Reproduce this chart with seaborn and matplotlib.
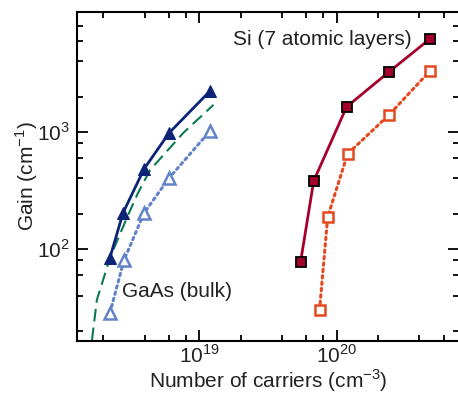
import matplotlib
matplotlib.use("Agg")
import matplotlib.pyplot as plt
import matplotlib.ticker as mticker
import numpy as np
import seaborn as sns

sns.set_theme(style="ticks")
plt.rcParams["font.family"] = ["Liberation Sans", "DejaVu Sans"]
plt.rcParams["mathtext.fontset"] = "custom"
plt.rcParams["mathtext.rm"] = "Liberation Sans"

# GaAs (bulk)
gaas_n = [2.24e18, 2.79e18, 3.97e18, 6.04e18, 1.2e19]
gaas_gain = [84, 203, 483, 980, 2240]
gaas_n2 = [2.24e18, 2.84e18, 3.97e18, 6.04e18, 1.2e19]
gaas_gain2 = [28.4, 80.5, 203, 404, 1020]
# dashed reference curve
curve_n = [1.66e18, 1.8e18, 2.24e18, 2.93e18, 3.53e18, 4.39e18, 7.65e18, 1.27e19]
curve_gain = [16.7, 36.7, 84, 177, 290, 473, 980, 1702]

# Si (7 atomic layers)
si_n = [5.46e19, 6.8e19, 1.18e20, 2.4e20, 4.77e20]
si_gain = [77.4, 381, 1636, 3256, 6235]
si_n2 = [7.5e19, 8.6e19, 1.2e20, 2.4e20, 4.77e20]
si_gain2 = [30.1, 188, 649, 1397, 3320]

fig, ax = plt.subplots(figsize=(4.58, 3.95), dpi=100)
fig.subplots_adjust(left=0.168, right=1.003, bottom=0.137, top=0.970)

# smooth the dashed curve in log space for drawing
lc = np.log10(curve_n)
fine = np.linspace(lc[0], lc[-1], 200)
ax.plot(10 ** fine, 10 ** np.interp(fine, lc, np.log10(curve_gain)),
        color="#0b7a52", lw=1.5, ls=(0, (6, 3)))

sns.lineplot(x=gaas_n2, y=gaas_gain2, ax=ax, color="#6383c9", lw=2.2,
             ls=(0, (0.8, 1.3)), dash_capstyle="round", marker="^", ms=8,
             mfc="white", mec="#6383c9", mew=1.8)
sns.lineplot(x=gaas_n, y=gaas_gain, ax=ax, color="#0c2478", lw=2,
             marker="^", ms=8.5, mec="#0c2478")
sns.lineplot(x=si_n2, y=si_gain2, ax=ax, color="#e5481f", lw=2.2,
             ls=(0, (0.8, 1.3)), dash_capstyle="round", marker="s", ms=7,
             mfc="white", mec="#e5481f", mew=1.8)
sns.lineplot(x=si_n, y=si_gain, ax=ax, color="#a3002b", lw=2,
             marker="s", ms=7, mfc="#a3002b", mec="black", mew=1.3)

ax.set_xscale("log")
ax.set_yscale("log")
ax.set_xlim(1.29e18, 7.8e20)
ax.set_ylim(16.4, 1.06e4)

ax.xaxis.set_major_locator(mticker.FixedLocator([1e19, 1e20]))
ax.yaxis.set_major_locator(mticker.FixedLocator([1e2, 1e3]))
ax.xaxis.set_minor_locator(mticker.LogLocator(base=10, subs=[2, 4, 6, 8]))
ax.yaxis.set_minor_locator(mticker.LogLocator(base=10, subs=[2, 4, 6, 8]))
ax.xaxis.set_minor_formatter(mticker.NullFormatter())
ax.yaxis.set_minor_formatter(mticker.NullFormatter())
fmt = mticker.FuncFormatter(lambda v, p: f"$10^{{{int(round(np.log10(v)))}}}$")
ax.xaxis.set_major_formatter(fmt)
ax.yaxis.set_major_formatter(fmt)

ax.tick_params(which="both", direction="in", top=True, right=True, colors="black",
               labelcolor="#222222", labelsize=15, width=1.3)
ax.tick_params(which="major", length=8, pad=5)
ax.tick_params(axis="x", which="major", pad=2.5)
ax.tick_params(which="minor", length=4.5)
for s in ax.spines.values():
    s.set_color("black")
    s.set_linewidth(1.5)

ax.set_xlabel("Number of carriers (cm$^{-3}$)", fontsize=15, color="#222222", labelpad=0)
ax.set_ylabel("Gain (cm$^{-1}$)", fontsize=15, color="#222222", labelpad=-2)

ax.text(2.74e18, 42.9, "GaAs (bulk)", fontsize=15, color="#222222", va="center")
ax.text(1.77e19, 6110, "Si (7 atomic layers)", fontsize=15, color="#222222", va="center")

fig.savefig("out.png", dpi=100)
